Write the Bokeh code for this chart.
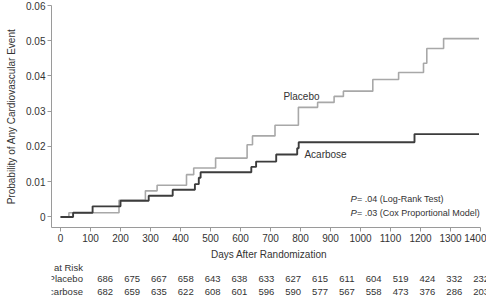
from bokeh.plotting import figure
from bokeh.models import Range1d, FixedTicker, Label, ColumnDataSource
from bokeh.layouts import column
from bokeh.core.properties import value
from bokeh.embed import file_html
from bokeh.resources import INLINE

# Kaplan-Meier style cumulative event curves
placebo_days = [0, 28, 195, 283, 322, 420, 444, 517, 622, 640, 715, 793, 857, 912, 943, 1041, 1127, 1210, 1221, 1277, 1395]
placebo_prob = [0, 0.0012, 0.0047, 0.0074, 0.009, 0.012, 0.0139, 0.0167, 0.0205, 0.023, 0.026, 0.0311, 0.0325, 0.0342, 0.0357, 0.039, 0.041, 0.0436, 0.0478, 0.0506, 0.0506]
acarbose_days = [0, 42, 107, 200, 294, 374, 448, 461, 467, 636, 652, 719, 789, 794, 1180, 1395]
acarbose_prob = [0, 0.0012, 0.003, 0.0046, 0.006, 0.0077, 0.0093, 0.0111, 0.0127, 0.0142, 0.0157, 0.0177, 0.0195, 0.0212, 0.0235, 0.0235]

x_ticks = [0, 100, 200, 300, 400, 500, 600, 700, 800, 900, 1000, 1100, 1200, 1300, 1400]
y_ticks = [0, 0.01, 0.02, 0.03, 0.04, 0.05, 0.06]
groups = ["Placebo", "Acarbose"]
placebo_at_risk = [686, 675, 667, 658, 643, 638, 633, 627, 615, 611, 604, 519, 424, 332, 232]
acarbose_at_risk = [682, 659, 635, 622, 608, 601, 596, 590, 577, 567, 558, 473, 376, 286, 203]

FONT = "Liberation Sans"
TXT = "#333333"
AX = "#9a9a9a"

p = figure(width=486, height=262, output_backend="svg", toolbar_location=None,
           x_range=Range1d(-30, 1420), y_range=Range1d(-0.003, 0.06),
           min_border_left=51, min_border_right=0, min_border_top=5, min_border_bottom=31)
p.outline_line_color = None
p.xgrid.visible = False
p.ygrid.visible = False

p.step(placebo_days, placebo_prob, mode="after", line_color="#a8a8a8", line_width=1.6)
p.step(acarbose_days, acarbose_prob, mode="after", line_color="#3c3c3c", line_width=1.9)

for ax in (p.xaxis[0], p.yaxis[0]):
    ax.axis_line_color = AX
    ax.major_tick_line_color = AX
    ax.minor_tick_line_color = None
    ax.major_tick_out = 4
    ax.major_tick_in = 0
    ax.major_label_text_font = FONT
    ax.major_label_text_font_size = "10px"
    ax.major_label_text_color = TXT
    ax.axis_label_text_font = FONT
    ax.axis_label_text_font_size = "10px"
    ax.axis_label_text_font_style = "normal"
    ax.axis_label_text_color = TXT
    ax.major_label_standoff = 2

p.xaxis.bounds = (-30, 1400)
p.xaxis.ticker = FixedTicker(ticks=x_ticks)
p.yaxis.ticker = FixedTicker(ticks=y_ticks)
p.yaxis.major_label_overrides = {0: "0"}
p.xaxis.axis_label = "Days After Randomization"
p.yaxis.axis_label = "Probability of Any Cardiovascular Event"
p.xaxis.axis_label_standoff = 4
p.yaxis.axis_label_standoff = 6

def lab(x, y, text, size="10px", style="normal"):
    p.add_layout(Label(x=x, y=y, text=text, text_font=FONT, text_font_size=size,
                       text_color=TXT, text_align="left", text_baseline="middle",
                       text_font_style=style))

lab(743, 0.0343, "Placebo")
lab(813, 0.0176, "Acarbose")
lab(967, 0.0051, "P", size="9.5px", style="italic")
lab(988, 0.0051, "= .04 (Log-Rank Test)", size="9px")
lab(967, 0.0012, "P", size="9.5px", style="italic")
lab(988, 0.0012, "= .03 (Cox Proportional Model)", size="9px")

# number at risk table (separate strip below the axis, same day scale: 0.3 px/day)
t = figure(width=486, height=34, output_backend="svg", toolbar_location=None,
           x_range=Range1d(-200, 1420), y_range=Range1d(0, 34),
           min_border_left=0, min_border_right=0, min_border_top=0, min_border_bottom=0)
t.axis.visible = False
t.grid.visible = False
t.outline_line_color = None

row_y = [17.7, 5.0]
head = ColumnDataSource(dict(x=[-83, -83, -83], y=[29.3] + row_y,
                             text=["No. at Risk"] + groups))
t.text(x="x", y="y", text="text", source=head, text_font=value(FONT),
       text_font_size="9.5px", text_color=TXT, text_align="right", text_baseline="middle")
for yy, counts in zip(row_y, (placebo_at_risk, acarbose_at_risk)):
    src = ColumnDataSource(dict(x=x_ticks, y=[yy] * len(x_ticks), text=[str(c) for c in counts]))
    t.text(x="x", y="y", text="text", source=src, text_font=value(FONT),
           text_font_size="9.5px", text_color=TXT, text_align="center", text_baseline="middle")

layout = column(p, t, spacing=0)
open("out.html", "w").write(file_html(layout, INLINE))
